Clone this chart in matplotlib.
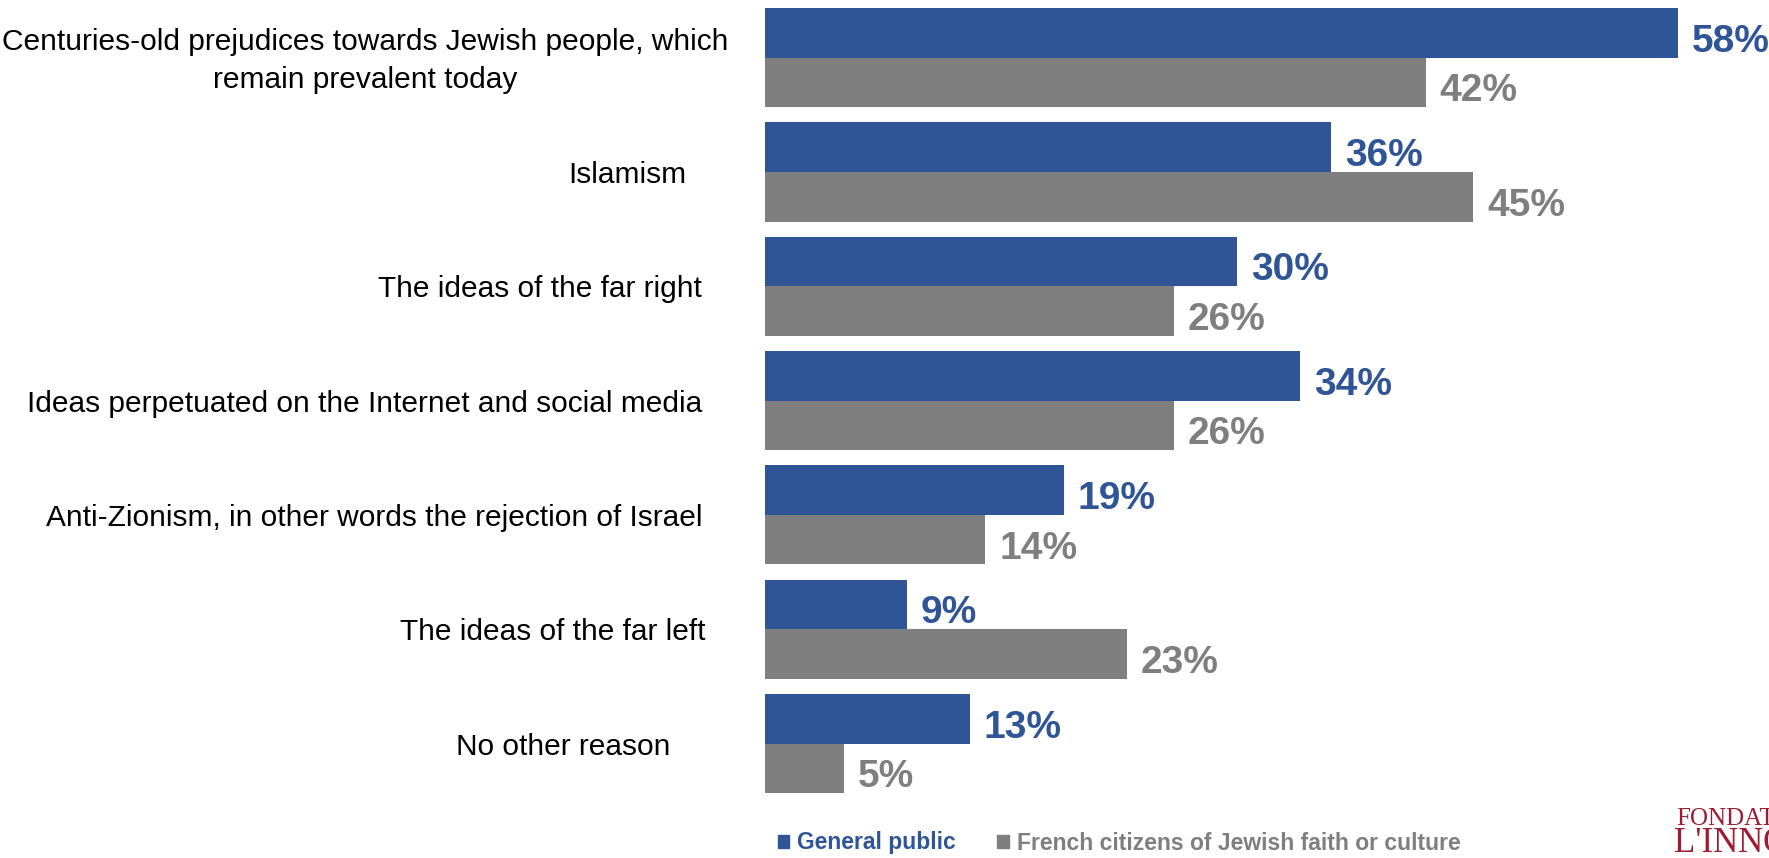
import numpy as np
import matplotlib
matplotlib.use('Agg')
import matplotlib.pyplot as plt
from matplotlib.patches import Patch

FONT = 'Liberation Sans'
plt.rcParams['font.family'] = FONT

categories = ['Centuries-old prejudices towards Jewish people, which\nremain prevalent today',
              'Islamism',
              'The ideas of the far right',
              'Ideas perpetuated on the Internet and social media',
              'Anti-Zionism, in other words the rejection of Israel',
              'The ideas of the far left',
              'No other reason']
general_public = [58, 36, 30, 34, 19, 9, 13]
jewish_citizens = [42, 45, 26, 26, 14, 23, 5]
series_names = ['General public', 'French citizens of Jewish faith or culture']

BLUE = '#2F5597'
GREY = '#7F7F7F'

W, H = 1769, 858
fig = plt.figure(figsize=(W / 100, H / 100), dpi=100)
# axes placed in pixel terms of the reference
ax = fig.add_axes([765 / W, 1 - 800.7 / H, 944 / W, 800.3 / H])
ax.set_xlim(0, 60)
ax.set_ylim(6.5, -0.5)
ax.axis('off')

y = np.arange(len(categories))
h = 0.434
ax.barh(y - h / 2, general_public, height=h, color=BLUE)
ax.barh(y + h / 2, jewish_citizens, height=h, color=GREY)

# labels in the original are not all flush right (trailing spaces in the source)
label_shift = [26, -16, 0, 0, 0, 3, -32]

for i in range(len(categories)):
    ax.annotate(f'{general_public[i]}%', (general_public[i], y[i] - h / 2),
                xytext=(14, -9), textcoords='offset pixels', va='center', ha='left',
                fontsize=28, fontweight='bold', color=BLUE)
    ax.annotate(f'{jewish_citizens[i]}%', (jewish_citizens[i], y[i] + h / 2),
                xytext=(14, -9), textcoords='offset pixels', va='center', ha='left',
                fontsize=28, fontweight='bold', color=GREY)
    ax.annotate(categories[i], (0, y[i]), xytext=(-63 + label_shift[i], -3),
                textcoords='offset pixels', va='center', ha='right',
                multialignment='center', linespacing=1.45,
                fontsize=21.5, color='black')

handles = [Patch(color=BLUE), Patch(color=GREY)]
leg = fig.legend(handles, series_names, loc='center left',
                 bbox_to_anchor=(764 / W, 1 - 843 / H), ncol=2, frameon=False,
                 handlelength=0.5, handleheight=0.5, handletextpad=0.35,
                 columnspacing=1.8, borderpad=0.1,
                 prop={'family': FONT, 'weight': 'bold', 'size': 16.5})
for t, c in zip(leg.get_texts(), [BLUE, GREY]):
    t.set_color(c)

# logo, cut by the right edge as in the reference
fig.text(1676 / W, 1 - 819 / H, 'FONDATION', family='Liberation Serif', fontsize=18,
         color='#9E1B32', va='center', ha='left')
fig.text(1674 / W, 1 - 844 / H, "L'INNOVATION", family='Liberation Serif', fontsize=25,
         color='#9E1B32', va='center', ha='left')

fig.savefig('out.png', dpi=100, facecolor='white')
